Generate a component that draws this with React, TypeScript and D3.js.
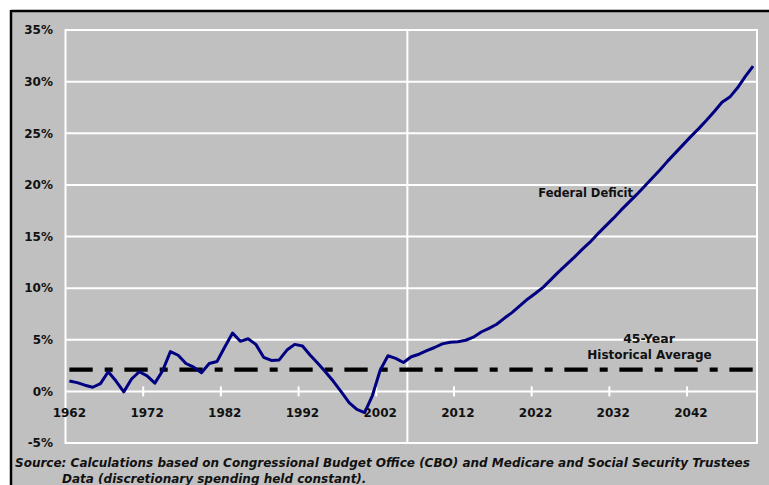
import * as d3 from 'd3';

const YEARS = d3.range(1962, 2051);
const DEFICIT = [
  1.0, 0.85, 0.6, 0.4, 0.75, 1.9, 1.0, -0.05, 1.2, 1.9,
  1.5, 0.8, 2.0, 3.85, 3.5, 2.7, 2.35, 1.8, 2.7, 2.9,
  4.3, 5.65, 4.85, 5.1, 4.55, 3.3, 3.0, 3.05, 4.0, 4.55,
  4.4, 3.5, 2.7, 1.85, 0.95, -0.05, -1.1, -1.75, -2.05, -0.4,
  2.05, 3.45, 3.2, 2.8, 3.35, 3.6, 3.95, 4.25, 4.6, 4.75,
  4.8, 4.95, 5.25, 5.75, 6.1, 6.5, 7.1, 7.65, 8.3, 8.95,
  9.5, 10.1, 10.85, 11.6, 12.3, 13.0, 13.75, 14.45, 15.25, 16.0,
  16.75, 17.55, 18.3, 19.05, 19.85, 20.65, 21.45, 22.3, 23.1, 23.9,
  24.7, 25.45, 26.25, 27.1, 28.0, 28.5, 29.4, 30.5, 31.5,
];
const HIST_AVG = 2.1;
const LABEL_YEARS = [1962, 1972, 1982, 1992, 2002, 2012, 2022, 2032, 2042];
const Y_TICKS = [-5, 0, 5, 10, 15, 20, 25, 30, 35];
const PROJECTION_START = 2006;

const W = 769;
const H = 485;
const PLOT = { left: 65.5, right: 757, top: 30, bottom: 443 };
const FONT = '"DejaVu Sans", Verdana, sans-serif';

export default function App() {
  const x = d3.scaleBand<number>().domain(YEARS).range([PLOT.left, PLOT.right]).padding(0);
  const y = d3.scaleLinear().domain([-5, 35]).range([PLOT.bottom, PLOT.top]);
  const cx = (yr: number) => x(yr)! + x.bandwidth() / 2;

  const line = d3.line<number>()
    .x((_, i) => cx(YEARS[i]))
    .y(d => y(d));

  const first = YEARS[0];
  const last = YEARS[YEARS.length - 1];

  return (
    <svg width={W} height={H} style={{ position: 'absolute', left: 0, top: 0, display: 'block' }}>
      <rect x={0} y={0} width={W} height={H} fill="#fff" />
      <rect x={12} y={12} width={W - 12} height={H - 12} fill="#c0c0c0" />
      <line x1={11} y1={11} x2={W} y2={11} stroke="#000" strokeWidth={2.5} />
      <line x1={11} y1={10} x2={11} y2={H} stroke="#000" strokeWidth={2.5} />

      {/* grid */}
      {Y_TICKS.map(t => (
        <line key={t} x1={PLOT.left} x2={PLOT.right} y1={y(t)} y2={y(t)} stroke="#fff" strokeWidth={2} />
      ))}
      <rect x={PLOT.left} y={PLOT.top} width={PLOT.right - PLOT.left} height={PLOT.bottom - PLOT.top}
        fill="none" stroke="#fff" strokeWidth={2} />
      <line x1={x(PROJECTION_START)!} x2={x(PROJECTION_START)!} y1={PLOT.top} y2={PLOT.bottom} stroke="#fff" strokeWidth={2} />

      {/* x ticks */}
      {LABEL_YEARS.slice(1).map(yr => (
        <line key={yr} x1={x(yr)!} x2={x(yr)!} y1={y(0) - 5} y2={y(0) + 5} stroke="#fff" strokeWidth={2} />
      ))}

      {/* y labels */}
      {Y_TICKS.map(t => (
        <text key={t} x={53} y={y(t)} dy="0.36em" textAnchor="end" fontFamily={FONT} fontWeight="bold"
          fontSize={12} fill="#111">{`${t}%`}</text>
      ))}
      {/* x labels */}
      {LABEL_YEARS.map(yr => (
        <text key={yr} x={cx(yr)} y={416.5} textAnchor="middle" fontFamily={FONT} fontWeight="bold"
          fontSize={12} fill="#111">{yr}</text>
      ))}

      {/* historical average */}
      <line x1={cx(first)} x2={cx(last)} y1={y(HIST_AVG)} y2={y(HIST_AVG)} stroke="#000" strokeWidth={4.3}
        strokeDasharray="23.3,12,8,11.7" />

      {/* deficit */}
      <path d={line(DEFICIT)!} fill="none" stroke="#000080" strokeWidth={3} strokeLinejoin="round" />

      <text x={633} y={196.5} textAnchor="end" fontFamily={FONT} fontWeight="bold" fontSize={11.5} fill="#111">Federal Deficit</text>
      <text x={649} y={342.5} textAnchor="middle" fontFamily={FONT} fontWeight="bold" fontSize={12.5} fill="#111">45-Year</text>
      <text x={649.5} y={359} textAnchor="middle" fontFamily={FONT} fontWeight="bold" fontSize={12} fill="#111">Historical Average</text>

      <text x={15} y={466.5} fontFamily={FONT} fontWeight="bold" fontStyle="italic" fontSize={12} fill="#111">
        Source: Calculations based on Congressional Budget Office (CBO) and Medicare and Social Security Trustees
      </text>
      <text x={62} y={483} fontFamily={FONT} fontWeight="bold" fontStyle="italic" fontSize={12} fill="#111">
        Data (discretionary spending held constant).
      </text>
    </svg>
  );
}
